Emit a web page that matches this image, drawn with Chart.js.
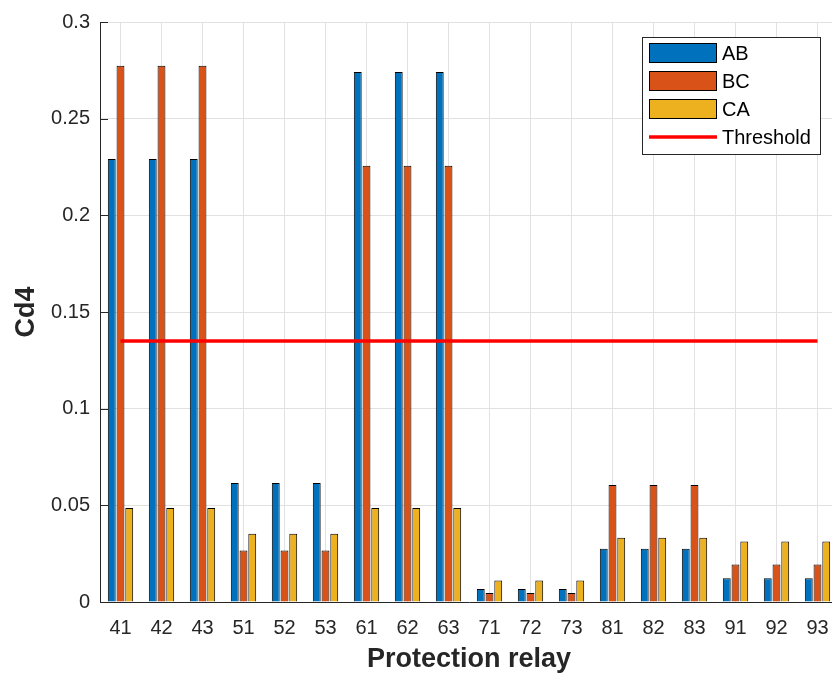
<!DOCTYPE html>
<html>
<head>
<meta charset="utf-8">
<script src="https://cdn.jsdelivr.net/npm/chart.js@4/dist/chart.umd.min.js"></script>
<style>
  html, body { margin: 0; padding: 0; background: #ffffff; overflow: hidden; }
  #wrap { width: 850px; height: 674px; }
</style>
</head>
<body>
<div id="wrap"><canvas id="c" width="850" height="674"></canvas></div>
<script>
// Relay identifiers along the horizontal axis
const relays = ['41','42','43','51','52','53','61','62','63','71','72','73','81','82','83','91','92','93'];

// Cd4 per phase pair
const abValues = [0.2291,0.2291,0.2291,0.0615,0.0615,0.0615,0.2741,0.2741,0.2741,0.0067,0.0067,0.0067,0.0276,0.0276,0.0276,0.0123,0.0123,0.0123];
const bcValues = [0.2774,0.2774,0.2774,0.0267,0.0267,0.0267,0.2257,0.2257,0.2257,0.0046,0.0046,0.0046,0.0605,0.0605,0.0605,0.0194,0.0194,0.0194];
const caValues = [0.0486,0.0486,0.0486,0.0353,0.0353,0.0353,0.0486,0.0486,0.0486,0.0111,0.0111,0.0111,0.0332,0.0332,0.0332,0.0313,0.0313,0.0313];

// Detection threshold
const threshold = 0.135;

// Vertical axis tick labels
const yTickLabels = ['0','0.05','0.1','0.15','0.2','0.25','0.3'];

const COL_AB = '#0072BD';
const COL_BC = '#D95319';
const COL_CA = '#EDB120';
const COL_TH = '#FF0000';
const AXIS = '#262626';
const GRID = '#e1e1e1';
const FONT = "'Liberation Sans', Arial, Helvetica, sans-serif";

// Inward tick marks on the left axis
const innerTicks = {
  id: 'innerTicks',
  afterDatasetsDraw(chart) {
    const y = chart.scales.y;
    const ctx = chart.ctx;
    const left = chart.chartArea.left;
    ctx.save();
    ctx.strokeStyle = AXIS;
    ctx.lineWidth = 1;
    y.ticks.forEach(t => {
      const py = Math.round(y.getPixelForValue(t.value)) + 0.5;
      ctx.beginPath();
      ctx.moveTo(left, py);
      ctx.lineTo(left + 8, py);
      ctx.stroke();
    });
    ctx.restore();
  }
};

// Boxed legend in the upper right of the plot
const boxLegend = {
  id: 'boxLegend',
  afterDraw(chart) {
    const ctx = chart.ctx;
    const x0 = 642, y0 = 37, w = 178, h = 117;
    ctx.save();
    ctx.fillStyle = '#ffffff';
    ctx.fillRect(x0, y0, w, h);
    ctx.strokeStyle = AXIS;
    ctx.lineWidth = 1;
    ctx.strokeRect(x0 + 0.5, y0 + 0.5, w, h);
    const rows = [
      { label: 'AB', color: COL_AB, kind: 'bar' },
      { label: 'BC', color: COL_BC, kind: 'bar' },
      { label: 'CA', color: COL_CA, kind: 'bar' },
      { label: 'Threshold', color: COL_TH, kind: 'line' }
    ];
    ctx.font = '20px ' + FONT;
    ctx.textBaseline = 'middle';
    ctx.textAlign = 'left';
    rows.forEach((r, i) => {
      const cy = 53 + i * 28;
      if (r.kind === 'bar') {
        ctx.fillStyle = r.color;
        ctx.fillRect(649, cy - 10, 68, 20);
        ctx.strokeStyle = '#000000';
        ctx.lineWidth = 1;
        ctx.strokeRect(649.5, cy - 9.5, 67, 19);
      } else {
        ctx.strokeStyle = r.color;
        ctx.lineWidth = 3.5;
        ctx.beginPath();
        ctx.moveTo(649, cy);
        ctx.lineTo(717, cy);
        ctx.stroke();
      }
      ctx.fillStyle = '#000000';
      ctx.fillText(r.label, 722, cy + 1);
    });
    ctx.restore();
  }
};

const barStyle = { borderColor: '#000000', borderWidth: 1, categoryPercentage: 0.64, barPercentage: 0.9, order: 1 };

new Chart(document.getElementById('c'), {
  data: {
    labels: relays,
    datasets: [
      Object.assign({ type: 'bar', label: 'AB', data: abValues, backgroundColor: COL_AB }, barStyle),
      Object.assign({ type: 'bar', label: 'BC', data: bcValues, backgroundColor: COL_BC }, barStyle),
      Object.assign({ type: 'bar', label: 'CA', data: caValues, backgroundColor: COL_CA }, barStyle),
      {
        type: 'line', label: 'Threshold',
        data: [{ x: relays[0], y: threshold }, { x: relays[relays.length - 1], y: threshold }],
        borderColor: COL_TH, borderWidth: 3.5, pointRadius: 0, fill: false, order: 0
      }
    ]
  },
  options: {
    responsive: false,
    animation: false,
    devicePixelRatio: 1,
    layout: { padding: { left: 0, right: 12, top: 18, bottom: 0 } },
    plugins: { legend: { display: false }, tooltip: { enabled: false } },
    scales: {
      x: {
        type: 'category',
        offset: true,
        grid: { offset: false, color: GRID, drawTicks: false },
        border: { color: AXIS, width: 1 },
        ticks: { color: AXIS, font: { family: FONT, size: 20 }, padding: 14, maxRotation: 0, autoSkip: false },
        title: { display: true, text: 'Protection relay', color: AXIS, font: { family: FONT, size: 27, weight: 'bold', lineHeight: 1 }, padding: { top: 0, bottom: 1 } },
        afterFit(s) { s.height = 72; }
      },
      y: {
        min: 0, max: 0.3,
        grid: { color: GRID, drawTicks: false },
        border: { color: AXIS, width: 1 },
        ticks: {
          stepSize: 0.05, color: AXIS, font: { family: FONT, size: 20 }, padding: 10,
          callback: (v, i) => yTickLabels[i]
        },
        title: { display: true, text: 'Cd4', color: AXIS, font: { family: FONT, size: 27, weight: 'bold' }, padding: { top: 10, bottom: 0 } },
        afterFit(s) { s.width = 100; }
      }
    }
  },
  plugins: [innerTicks, boxLegend]
});
</script>
</body>
</html>
